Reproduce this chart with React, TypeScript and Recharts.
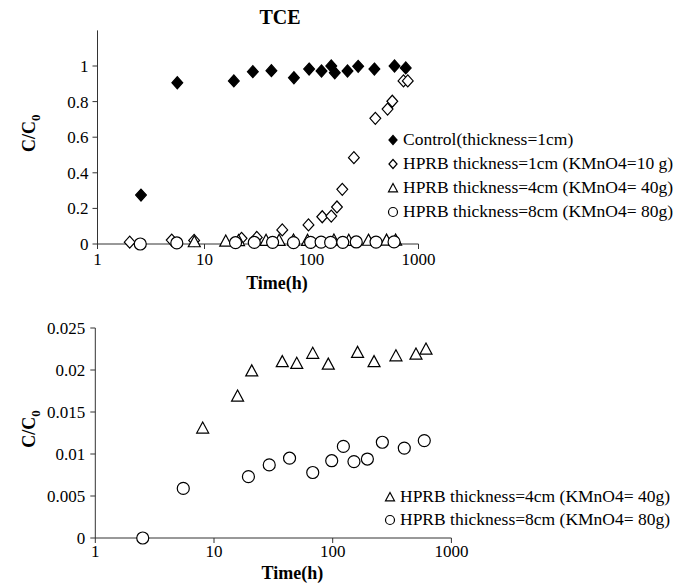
import React from 'react';
import { ScatterChart, Scatter, XAxis, YAxis, Legend } from 'recharts';

// time (h) and C/C0
const controlTime = [2.55, 5.57, 18.8, 28.3, 42.2, 68.5, 95, 124, 153, 165, 217, 273, 387, 597, 760];
const controlC = [0.275, 0.906, 0.916, 0.968, 0.974, 0.934, 0.983, 0.972, 1.0, 0.962, 0.972, 0.998, 0.983, 1.0, 0.989];

const hprb1Time = [2.0, 4.94, 8.0, 22.2, 30.8, 53.3, 93.7, 126, 153, 173, 194, 249, 395, 514, 569, 724, 794];
const hprb1C = [0.01, 0.022, 0.02, 0.032, 0.037, 0.079, 0.107, 0.153, 0.157, 0.208, 0.307, 0.485, 0.706, 0.758, 0.802, 0.916, 0.916];

const hprb4Time = [8.03, 15.8, 20.8, 37.6, 49.8, 67.9, 91.8, 162, 223, 341, 503, 611];
const hprb4C = [0.0131, 0.0169, 0.0199, 0.021, 0.0208, 0.022, 0.0207, 0.0221, 0.021, 0.0217, 0.0219, 0.0225];

const hprb8Time = [2.51, 5.51, 19.5, 29.2, 43.3, 67.9, 98.1, 123, 151, 196, 262, 401, 591];
const hprb8C = [0, 0.0059, 0.0073, 0.0087, 0.0095, 0.0078, 0.0092, 0.0109, 0.0091, 0.0094, 0.0114, 0.0107, 0.0116];

const xTicks = [1, 10, 100, 1000];
const topYTicks = [0, 0.2, 0.4, 0.6, 0.8, 1];
const bottomYTicks = [0, 0.005, 0.01, 0.015, 0.02, 0.025];

const topLegend = [
  { kind: 'filledDiamond', label: 'Control(thickness=1cm)' },
  { kind: 'diamond', label: 'HPRB thickness=1cm (KMnO4=10 g)' },
  { kind: 'triangle', label: 'HPRB thickness=4cm (KMnO4= 40g)' },
  { kind: 'circle', label: 'HPRB thickness=8cm (KMnO4= 80g)' },
];
const bottomLegend = topLegend.slice(2);

const toPoints = (t: number[], c: number[]) => t.map((x, i) => ({ x, y: c[i] }));

const FONT = 'Liberation Serif';

const Marker = ({ kind, cx, cy, r }: { kind: string; cx: number; cy: number; r: number }) => {
  const sw = 1.2;
  if (kind === 'circle') return <circle cx={cx} cy={cy} r={r} fill="#fff" stroke="#000" strokeWidth={sw} />;
  if (kind === 'triangle')
    return (
      <path
        d={`M${cx},${cy - r}L${cx + r},${cy + r * 0.85}L${cx - r},${cy + r * 0.85}Z`}
        fill="#fff"
        stroke="#000"
        strokeWidth={sw}
      />
    );
  const filled = kind === 'filledDiamond';
  return (
    <path
      d={`M${cx},${cy - r}L${cx + r * 0.9},${cy}L${cx},${cy + r}L${cx - r * 0.9},${cy}Z`}
      fill={filled ? '#000' : '#fff'}
      stroke="#000"
      strokeWidth={sw}
    />
  );
};

const shape = (kind: string) => (props: any) => <Marker kind={kind} cx={props.cx} cy={props.cy} r={6} />;

const LegendBox = ({ items, rowH }: { items: { kind: string; label: string }[]; rowH: number }) => (
  <div style={{ fontFamily: FONT, fontSize: 17.5, color: '#000' }}>
    {items.map((it) => (
      <div key={it.label} style={{ display: 'flex', alignItems: 'center', height: rowH, whiteSpace: 'nowrap' }}>
        <svg width={14} height={14} style={{ marginRight: 3 }}>
          <Marker kind={it.kind} cx={7} cy={7} r={4.5} />
        </svg>
        <span>{it.label}</span>
      </div>
    ))}
  </div>
);

const yLabel = ({ viewBox }: any) => {
  const x = 35;
  const y = viewBox.y + viewBox.height / 2 - 4;
  return (
    <text
      x={x}
      y={y}
      transform={`rotate(-90 ${x} ${y})`}
      textAnchor="middle"
      fontFamily={FONT}
      fontWeight="bold"
      fontSize={18}
      fill="#000"
    >
      C/C<tspan fontSize={13} dy={5}>0</tspan>
    </text>
  );
};

const xLabel = (dy: number) => ({ viewBox }: any) => (
  <text
    x={viewBox.x + viewBox.width / 2 + 19}
    y={viewBox.y + dy}
    textAnchor="middle"
    fontFamily={FONT}
    fontWeight="bold"
    fontSize={18}
    fill="#000"
  >
    Time(h)
  </text>
);

const tickStyle = { fontFamily: FONT, fontSize: 17, fill: '#000' };
const axisLine = { stroke: '#333', strokeWidth: 1 };

const App: React.FC = () => {
  return (
    <div style={{ position: 'absolute', left: 0, top: 0, width: 688, height: 583, background: '#fff', fontFamily: FONT }}>
      <div
        style={{
          position: 'absolute',
          left: 230,
          top: 6,
          width: 100,
          textAlign: 'center',
          fontFamily: FONT,
          fontWeight: 'bold',
          fontSize: 20,
          lineHeight: '22px',
        }}
      >
        TCE
      </div>

      {/* upper panel */}
      <div style={{ position: 'absolute', left: 0, top: 0 }}>
        <ScatterChart width={688} height={300} margin={{ top: 30.4, right: 269.5, left: 37.5, bottom: 26 }}>
          <XAxis
            dataKey="x"
            type="number"
            scale="log"
            domain={[1, 1000]}
            ticks={xTicks}
            allowDataOverflow
            height={30}
            tick={tickStyle}
            tickSize={5}
            tickMargin={4}
            axisLine={axisLine}
            tickLine={axisLine}
            label={{ content: xLabel(45) }}
          />
          <YAxis
            dataKey="y"
            type="number"
            domain={[0, 1.2]}
            ticks={topYTicks}
            width={60}
            tick={tickStyle}
            tickSize={5}
            tickMargin={4}
            axisLine={axisLine}
            tickLine={axisLine}
            label={{ content: yLabel }}
          />
          <Legend
            layout="vertical"
            align="center"
            verticalAlign="middle"
            wrapperStyle={{ left: 386, top: 127.5, width: 300 }}
            content={() => <LegendBox items={topLegend} rowH={24} />}
          />
          <Scatter name="Control" data={toPoints(controlTime, controlC)} shape={shape('filledDiamond')} isAnimationActive={false} />
          <Scatter name="HPRB 1cm" data={toPoints(hprb1Time, hprb1C)} shape={shape('diamond')} isAnimationActive={false} />
          <Scatter name="HPRB 4cm" data={toPoints(hprb4Time, hprb4C)} shape={shape('triangle')} isAnimationActive={false} />
          <Scatter name="HPRB 8cm" data={toPoints(hprb8Time, hprb8C)} shape={shape('circle')} isAnimationActive={false} />
        </ScatterChart>
      </div>

      {/* lower panel */}
      <div style={{ position: 'absolute', left: 0, top: 300 }}>
        <ScatterChart width={688} height={283} margin={{ top: 28, right: 236.6, left: 35.3, bottom: 15 }}>
          <XAxis
            dataKey="x"
            type="number"
            scale="log"
            domain={[1, 1000]}
            ticks={xTicks}
            allowDataOverflow
            height={30}
            tick={tickStyle}
            tickSize={5}
            tickMargin={2}
            axisLine={axisLine}
            tickLine={axisLine}
            label={{ content: xLabel(41) }}
          />
          <YAxis
            dataKey="y"
            type="number"
            domain={[0, 0.025]}
            ticks={bottomYTicks}
            width={60}
            tick={tickStyle}
            tickSize={5}
            tickMargin={5}
            axisLine={axisLine}
            tickLine={axisLine}
            label={{ content: yLabel }}
          />
          <Legend
            layout="vertical"
            align="center"
            verticalAlign="middle"
            wrapperStyle={{ left: 383, top: 185, width: 300 }}
            content={() => <LegendBox items={bottomLegend} rowH={23} />}
          />
          <Scatter name="HPRB 4cm" data={toPoints(hprb4Time, hprb4C)} shape={shape('triangle')} isAnimationActive={false} />
          <Scatter name="HPRB 8cm" data={toPoints(hprb8Time, hprb8C)} shape={shape('circle')} isAnimationActive={false} />
        </ScatterChart>
      </div>
    </div>
  );
};

export default App;
